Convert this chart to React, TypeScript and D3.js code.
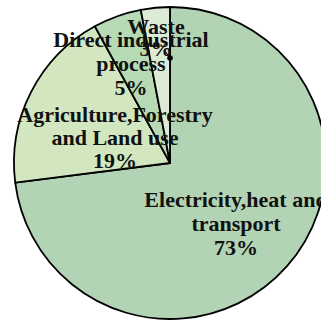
import React from "react";
import * as d3 from "d3";

const categories = ["Electricity,heat and transport", "Agriculture,Forestry and Land use", "Direct industrial process", "Waste"];
const shares = [73, 19, 5, 3];
const colors = ["#b3d4b4", "#d2e7c0", "#b6dab3", "#dbebd6"];

// label lines per slice and their anchor positions
const labelLines = [
  ["Electricity,heat and", "transport", "73%"],
  ["Agriculture,Forestry", "and Land use", "19%"],
  ["Direct industrial", "process", "5%"],
  ["Waste", "3%"],
];
const labelAnchors: [number, number][] = [
  [236, 207],
  [115, 122],
  [131, 47],
  [156, 34],
];
const lineGap = [24, 23, 24, 22];

const W = 321;
const H = 321;
const cx = 170;
const cy = 163;
const R = 156;

export default function App() {
  const pie = d3
    .pie<number>()
    .sort(null)
    .startAngle(0)
    .endAngle(2 * Math.PI)(shares);
  const arc = d3.arc<d3.PieArcDatum<number>>().innerRadius(0).outerRadius(R);

  // waste leader marker sits on the slice boundary
  const wasteDot: [number, number] = [cx, 58];

  return (
    <svg
      width={W}
      height={H}
      style={{ position: "absolute", left: 0, top: 0, background: "#fff" }}
    >
      <g transform={`translate(${cx},${cy})`}>
        {pie.map((d, i) => (
          <path
            key={categories[i]}
            d={arc(d) || ""}
            fill={colors[i]}
            stroke="#000"
            strokeWidth={1.8}
            strokeLinejoin="round"
          />
        ))}
      </g>
      <line x1={164} y1={50} x2={wasteDot[0]} y2={wasteDot[1]} stroke="#000" strokeWidth={1.2} />
      <circle cx={wasteDot[0]} cy={wasteDot[1]} r={2.8} fill="#000" />
      {labelLines.map((lines, i) => (
        <text
          key={categories[i]}
          x={labelAnchors[i][0]}
          y={labelAnchors[i][1]}
          textAnchor="middle"
          fontFamily="'Liberation Serif', 'Times New Roman', serif"
          fontWeight="bold"
          fontSize={22}
          fill="#111"
        >
          {lines.map((t, j) => (
            <tspan key={j} x={labelAnchors[i][0]} dy={j === 0 ? 0 : lineGap[i]}>
              {t}
            </tspan>
          ))}
        </text>
      ))}
    </svg>
  );
}
